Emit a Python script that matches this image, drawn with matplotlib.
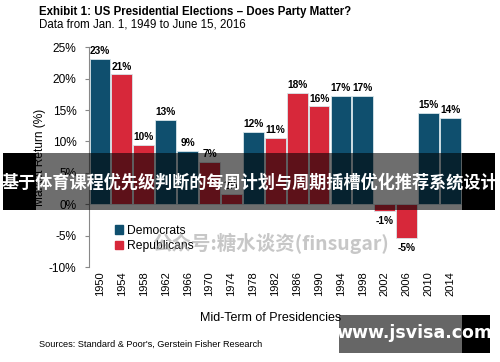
import matplotlib
matplotlib.use("Agg")
import matplotlib.pyplot as plt
from matplotlib.patches import Rectangle, Patch

years = ["1950", "1954", "1958", "1962", "1966", "1970", "1974", "1978", "1982",
         "1986", "1990", "1994", "1998", "2002", "2006", "2010", "2014"]
returns = [23.1, 20.7, 9.5, 13.4, 8.5, 6.7, 1.7, 11.5, 10.6,
           17.8, 15.6, 17.2, 17.2, -1.0, -5.3, 14.6, 13.8]
labels = ["23%", "21%", "10%", "13%", "9%", "7%", "2%", "12%", "11%",
          "18%", "16%", "17%", "17%", "-1%", "-5%", "15%", "14%"]
party = ["D", "R", "R", "D", "D", "R", "R", "D", "R",
         "R", "R", "D", "D", "R", "R", "D", "D"]
yticks = [-10, -5, 0, 5, 10, 15, 20, 25]

blue = "#0f4f6e"
red = "#d7283a"

plt.rcParams["font.family"] = ["Liberation Sans", "DejaVu Sans"]

fig = plt.figure(figsize=(5, 3.62), dpi=100)
ax = fig.add_axes([0.178, 0.2624, 0.745, 0.6069])

colors = [blue if p == "D" else red for p in party]
x = list(range(len(years)))
ax.bar(x, returns, width=0.95, color=colors, edgecolor="#d8e6ea", linewidth=0.6)

for i, v in enumerate(returns):
    if v >= 0:
        ax.annotate(labels[i], (i, v), xytext=(0, 2), textcoords="offset points",
                    ha="center", va="bottom", fontsize=7.3, fontweight="bold")
    else:
        ax.annotate(labels[i], (i, v), xytext=(0, -4), textcoords="offset points",
                    ha="center", va="top", fontsize=7.3, fontweight="bold")

ax.set_xlim(-0.5, 16.5)
ax.set_ylim(-10, 25)
ax.set_yticks(yticks)
ax.set_yticklabels([f"{t}%" for t in yticks], fontsize=8.6)
ax.set_xticks(x)
ax.set_xticklabels(years, rotation=90, fontsize=8)
ax.tick_params(axis="x", length=0, pad=3)
ax.tick_params(axis="y", length=3, color="#888888", pad=6)
for s in ["top", "right", "bottom"]:
    ax.spines[s].set_visible(False)
ax.spines["left"].set_color("#888888")
ax.spines["left"].set_linewidth(0.8)
ax.set_ylabel("Market Return (%)", fontsize=8.6, labelpad=2)
ax.set_xlabel("Mid-Term of Presidencies", fontsize=9)
ax.xaxis.set_label_coords(0.487, -0.205)

handles = [Patch(color=blue, label="Democrats"), Patch(color=red, label="Republicans")]
ax.legend(handles=handles, loc="upper left", bbox_to_anchor=(0.04, 0.242), frameon=False,
          fontsize=8.7, handlelength=0.7, handleheight=0.7, handletextpad=0.3,
          labelspacing=0.3, borderaxespad=0.5)

fig.text(0.078, 0.983, "Exhibit 1: US Presidential Elections \u2013 Does Party Matter?",
         fontsize=8.3, fontweight="bold", va="top")
fig.text(0.078, 0.948, "Data from Jan. 1, 1949 to June 15, 2016", fontsize=8.3, va="top")
fig.text(0.078, 0.05, "Sources: Standard & Poor's, Gerstein Fisher Research",
         fontsize=6.6, va="center")

# watermarks
fig.text(0.542, 0.328, "公众号:糖水谈资(finsugar)", fontsize=14, fontweight="bold",
         color="#9a9a9a", alpha=0.55, ha="center", va="center",
         family=["Noto Sans CJK SC", "DejaVu Sans"])

W, H = 500, 362
def box(x0, y0, x1, y1, color, alpha):
    fig.patches.append(Rectangle((x0 / W, 1 - y1 / H), (x1 - x0) / W, (y1 - y0) / H,
                                 transform=fig.transFigure, facecolor=color,
                                 alpha=alpha, edgecolor="none", zorder=5))

box(36, 153, 462, 210, "black", 0.57)
box(3, 153, 36, 210, "black", 1)
box(462, 153, 495, 210, "black", 1)
fig.text(0.5, 1 - 183 / H, "基于体育课程优先级判断的每周计划与周期插槽优化推荐系统设计",
         fontsize=12.3, fontweight="bold", color="white", ha="center", va="center",
         family=["Noto Sans CJK SC", "DejaVu Sans"], zorder=6)

box(339, 315, 462, 353, "black", 0.6)
box(462, 315, 490, 353, "black", 1)
fig.text(414 / W, 1 - 333 / H, "www.jsvisa.com", fontsize=12.5, fontweight="bold",
         color="white", ha="center", va="center", family=["DejaVu Sans"], zorder=6)

fig.savefig("out.png", dpi=100)
